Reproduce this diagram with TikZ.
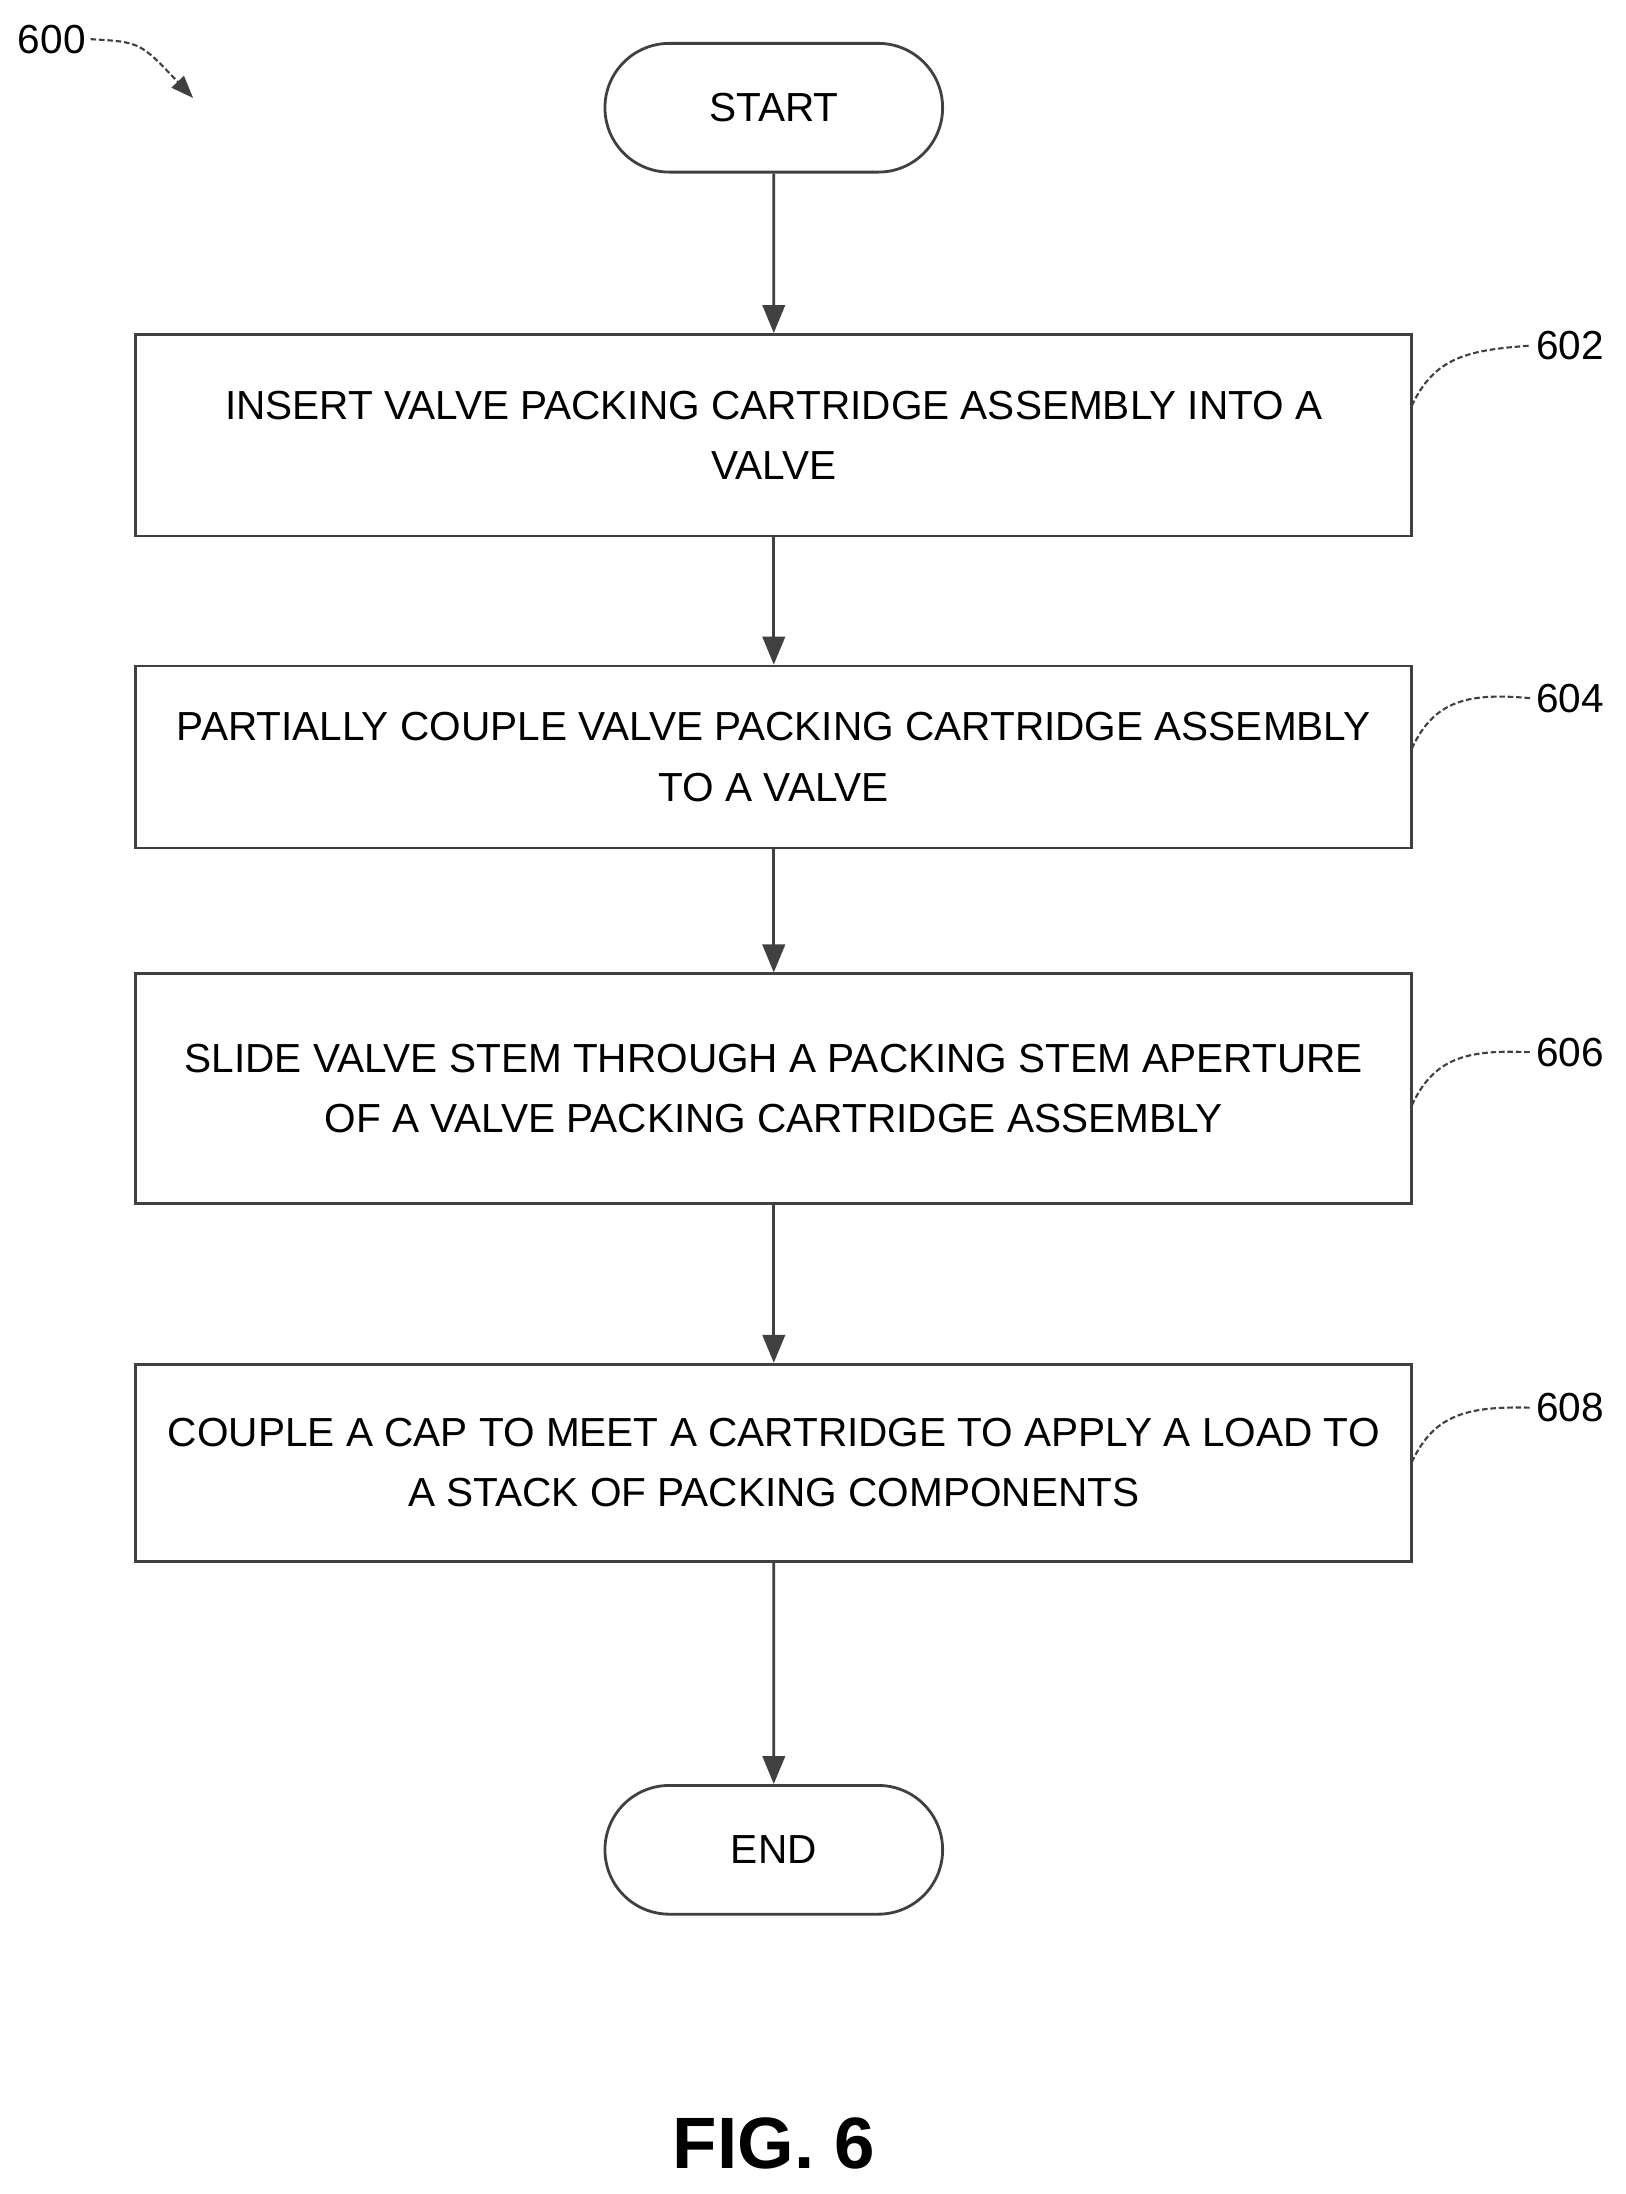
\documentclass[tikz,border=0pt]{standalone}
\usepackage{fontspec}
\setmainfont{Liberation Sans}
\usetikzlibrary{arrows.meta,shapes.misc}
\begin{document}
\begin{tikzpicture}[x=1pt,y=-1pt,
 ln/.style={draw=black!75,line width=2pt},
 box/.style={ln,rectangle,minimum width=912pt,align=center,font=\fontsize{29}{43}\selectfont,inner sep=0pt},
 term/.style={ln,rounded rectangle,minimum width=248pt,minimum height=92pt,font=\fontsize{29}{34}\selectfont},
 arr/.style={ln,-{Triangle[length=20pt,width=16pt]}},
 ref/.style={font=\fontsize{29}{34}\selectfont},
 lead/.style={draw=black!75,line width=1.5pt,dashed,dash pattern=on 4pt off 2pt}]
\useasboundingbox (0,0) rectangle (1162,1568);
\node[term] (start) at (553,77) {START};
\node[box,minimum height=144pt] (b602) at (553,311) {INSERT VALVE PACKING CARTRIDGE ASSEMBLY INTO A\\VALVE};
\node[box,minimum height=130pt] (b604) at (553,541) {PARTIALLY COUPLE VALVE PACKING CARTRIDGE ASSEMBLY\\TO A VALVE};
\node[box,minimum height=164pt] (b606) at (553,778) {SLIDE VALVE STEM THROUGH A PACKING STEM APERTURE\\OF A VALVE PACKING CARTRIDGE ASSEMBLY};
\node[box,minimum height=141pt] (b608) at (553,1045.5) {COUPLE A CAP TO MEET A CARTRIDGE TO APPLY A LOAD TO\\A STACK OF PACKING COMPONENTS};
\node[term] (end) at (553,1322) {END};
\draw[arr] (start) -- (b602);
\draw[arr] (b602) -- (b604);
\draw[arr] (b604) -- (b606);
\draw[arr] (b606) -- (b608);
\draw[arr] (b608) -- (end);
\node[ref] (r600) at (37,28) {600};
\node[ref] (r602) at (1122,247) {602};
\node[ref] (r604) at (1122,499) {604};
\node[ref] (r606) at (1122,752) {606};
\node[ref] (r608) at (1122,1006) {608};
\coordinate (t600) at (138,70);
\draw[lead,-{Triangle[length=16pt,width=12pt]}] (r600.east) .. controls (100,30) .. (t600);
\foreach \n/\y in {602/290,604/535,606/790,608/1045}{
  \coordinate (c\n) at (1009,\y);
  \draw[lead] (c\n) .. controls (1025,\y-35) and (1050,\y-40) .. (r\n.west);
}
\node[font=\bfseries\fontsize{52}{56}\selectfont] (fig) at (553,1532) {FIG. 6};
\end{tikzpicture}
\end{document}
